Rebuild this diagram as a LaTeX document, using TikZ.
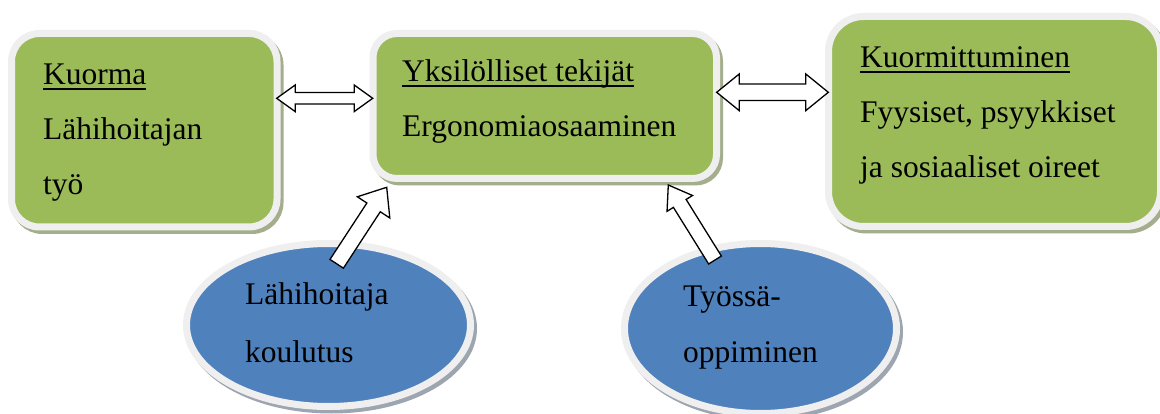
\documentclass[tikz,border=0pt]{standalone}
\usepackage{fontspec}
\setmainfont{Liberation Serif}
\usetikzlibrary{calc,shapes.geometric}
\definecolor{boxgreen}{HTML}{9BBB59}
\definecolor{ellblue}{HTML}{4F81BD}
\definecolor{rim}{HTML}{EFEFEF}
\definecolor{gshadow}{HTML}{A4AE8C}
\definecolor{bshadow}{HTML}{9DA5B1}
\newsavebox\myulbox
\newcommand\myul[1]{\sbox\myulbox{#1}\rlap{\rule[-5pt]{\wd\myulbox}{1.8pt}}\usebox\myulbox}
\newcommand\dblarrow[5]{%
  \coordinate (ha) at ($(#1)!#5!(#2)$);
  \coordinate (hb) at ($(#2)!#5!(#1)$);
  \draw[blockarrow] (#1) -- ($(ha)!#4!90:(#2)$) -- ($(ha)!#3!90:(#2)$)
    -- ($(hb)!#3!-90:(#1)$) -- ($(hb)!#4!-90:(#1)$) -- (#2)
    -- ($(hb)!#4!90:(#1)$) -- ($(hb)!#3!90:(#1)$)
    -- ($(ha)!#3!-90:(#2)$) -- ($(ha)!#4!-90:(#2)$) -- cycle;}
\newcommand\sglarrow[5]{%
  \coordinate (hp) at ($(#2)!#5!(#1)$);
  \draw[blockarrow] ($(#1)!#3!90:(#2)$) -- ($(hp)!#3!-90:(#1)$)
    -- ($(hp)!#4!-90:(#1)$) -- (#2) -- ($(hp)!#4!90:(#1)$)
    -- ($(hp)!#3!90:(#1)$) -- ($(#1)!#3!-90:(#2)$) -- cycle;}
\tikzset{
  greenbox/.style={draw=rim, fill=boxgreen, line width=7pt, inner sep=0pt,
    preaction={draw=gshadow, fill=gshadow, line width=7pt,
      transform canvas={xshift=3pt, yshift=-3.5pt}}},
  blueell/.style={ellipse, draw=rim, fill=ellblue, line width=7pt, inner sep=0pt,
    preaction={draw=bshadow, fill=bshadow, line width=7pt,
      transform canvas={xshift=3pt, yshift=-3.5pt}}},
  blockarrow/.style={draw=black, fill=white, line width=1.3pt, line join=miter},
  txt/.style={inner sep=0pt, anchor=base west, font=\fontsize{31.5}{38}\selectfont}
}
\begin{document}
\begin{tikzpicture}[x=1pt, y=-1pt]
\useasboundingbox (0,0) rectangle (1160,414);
\fill[white] (0,0) rectangle (1160,414);

% boxes
\node[greenbox, rounded corners=28pt, minimum width=265.5pt, minimum height=193.5pt] (kuorma) at (144.25,130.25) {};
\node[greenbox, rounded corners=24pt, minimum width=343.5pt, minimum height=145pt] (yksi) at (544.75,106) {};
\node[greenbox, rounded corners=35pt, minimum width=332pt, minimum height=210pt] (kuormit) at (994.5,121.5) {};

% ellipses
\node[blueell, minimum width=284pt, minimum height=163pt] (koulutus) at (328.5,325) {};
\node[blueell, minimum width=272pt, minimum height=170pt] (oppiminen) at (760.5,328.5) {};

% arrows
\coordinate (dl1) at (276.7,98.3);
\coordinate (dl2) at (372.7,98.3);
\coordinate (dr1) at (716.7,92.3);
\coordinate (dr2) at (828.3,92.3);
\coordinate (ul1) at (336.7,263.8);
\coordinate (ul2) at (386.7,187.3);
\coordinate (ur1) at (715,260);
\coordinate (ur2) at (668.3,185);
\dblarrow{dl1}{dl2}{5.8pt}{13.3pt}{18.5pt}
\dblarrow{dr1}{dr2}{8.3pt}{18.3pt}{22.5pt}
\sglarrow{ul1}{ul2}{8pt}{19.4pt}{24pt}
\sglarrow{ur1}{ur2}{7.5pt}{15pt}{21.7pt}

% texts
\node[txt] (k1) at (43,85) {\myul{Kuorma}};
\node[txt] (k2) at (43,140) {Lähihoitajan};
\node[txt] (k3) at (43,195) {työ};
\node[txt] (y1) at (402,82) {\myul{Yksilölliset tekijät}};
\node[txt] (y2) at (402,137) {Ergonomiaosaaminen};
\node[txt] (m1) at (860,68) {\myul{Kuormittuminen}};
\node[txt] (m2) at (860,123) {Fyysiset, psyykkiset};
\node[txt] (m3) at (860,178) {ja sosiaaliset oireet};
\node[txt] (l1) at (245,305) {Lähihoitaja};
\node[txt] (l2) at (245,362) {koulutus};
\node[txt] (t1) at (683,306) {Työssä-};
\node[txt] (t2) at (683,362) {oppiminen};
\end{tikzpicture}
\end{document}
